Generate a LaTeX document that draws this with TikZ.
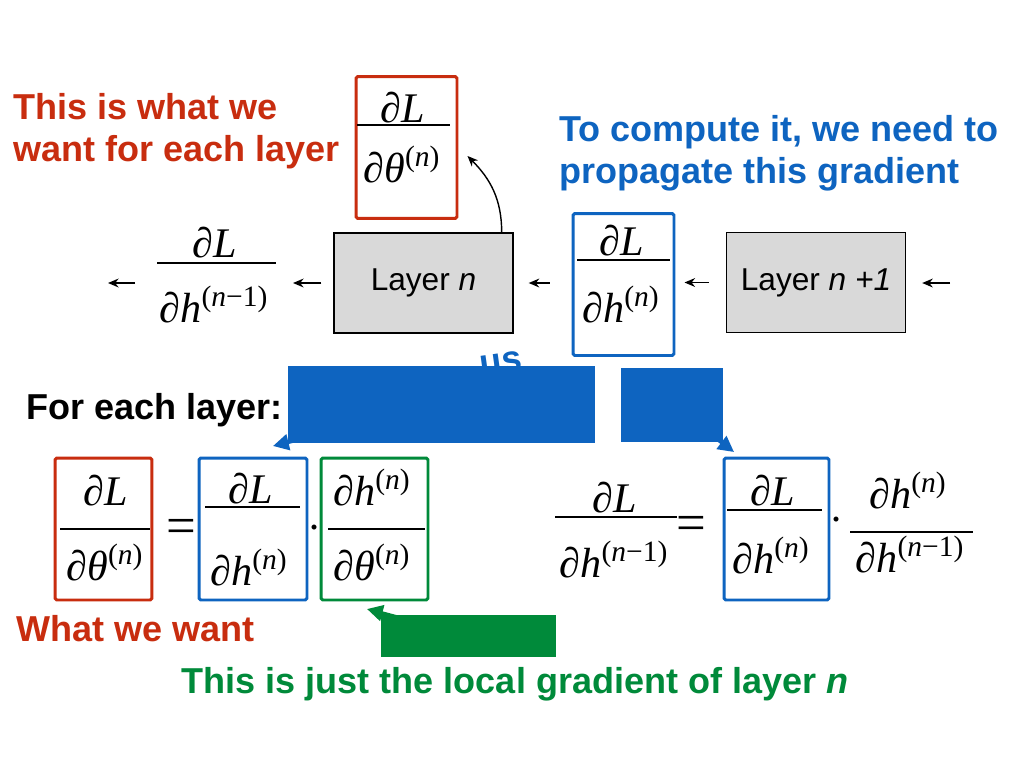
\documentclass[tikz,border=0pt]{standalone}
\usepackage{fontspec}
\setmainfont{Liberation Sans}
\newfontfamily\eqfont{Liberation Serif}
\usetikzlibrary{arrows.meta}

\definecolor{lossred}{RGB}{200,45,15}
\definecolor{gradblue}{RGB}{14,100,192}
\definecolor{localgreen}{RGB}{0,138,58}
\definecolor{layergray}{RGB}{217,217,217}

\newcommand{\lay}[1]{\textsuperscript{(\textit{#1})}}

\tikzset{
  head/.style={font=\fontsize{20.5}{24}\selectfont\bfseries, inner sep=0pt, align=left},
  mth/.style={font=\eqfont\fontsize{24}{26}\selectfont, inner sep=0pt, anchor=base},
  eqsign/.style={font=\eqfont\fontsize{30}{32}\selectfont, inner sep=0pt, anchor=base},
  bar/.style={line width=1.6pt},
  layer/.style={draw, fill=layergray, line width=0.8pt, minimum width=3.58cm, minimum height=2cm, inner sep=0pt, font=\fontsize{18}{20}\selectfont},
  gbox/.style={draw=#1, line width=1.7pt, minimum height=2.84cm, inner sep=0pt, rounded corners=1pt},
  flow/.style={-{Stealth[length=6pt,width=5pt]}, line width=1pt},
  callout/.style={fill=#1, inner sep=0pt},
  point/.style={-{Triangle[length=9pt,width=9pt]}, line width=2pt, draw=#1},
}

\begin{document}
\begin{tikzpicture}[x=0.02cm, y=-0.02cm]
\useasboundingbox (0,0) rectangle (1024,768);
\fill[white] (0,0) rectangle (1024,768);

% headings
\node[head, text=lossred, anchor=west] (wantall) at (13,131) {This is what we\\want for each layer};
\node[head, text=gradblue, anchor=west] (needprop) at (559,153) {To compute it, we need to\\propagate this gradient};

% forward chain, gradient flows right to left
\node[layer] (layern) at (423.5,283) {Layer \textit{n}};
\node[layer] (layernn) at (816,282.5) {Layer \textit{n +1}};
\node[gbox=lossred, minimum width=2.02cm] (topred) at (406.5,147.5) {};
\node[gbox=gradblue, minimum width=2.02cm] (topblue) at (623.5,284.5) {};

\node[mth] (trn) at (403,122) {∂\textit{L}};
\node[mth] (trd) at (402,182) {∂\textit{θ}\lay{n}};
\draw[bar] (357,125) -- (450,125);

\coordinate (pbl) at (157,263);
\coordinate (pbr) at (276,263);
\node[mth] (pvn) at (215,257) {∂\textit{L}};
\node[mth] (pvd) at (214,322) {∂\textit{h}\textsuperscript{(\textit{n}−1)}};
\draw[bar] (pbl) -- (pbr);

\node[mth] (tbn) at (622,255) {∂\textit{L}};
\node[mth] (tbd) at (621,322) {∂\textit{h}\lay{n}};
\draw[bar] (577,260) -- (670,260);

\coordinate (outl) at (108,283);
\coordinate (inr) at (950,283);
\draw[flow, shorten <=0.44cm] (outl -| pbl) -- (outl);
\draw[flow, shorten <=0.24cm, shorten >=0.34cm] (layern.west) -- (layern.west -| pbr);
\draw[flow, shorten <=0.44cm, shorten >=0.3cm] (topblue.west |- layern) -- (layern.east);
\draw[flow, shorten <=0.34cm, shorten >=0.18cm] (layernn.west) -- (layernn.west -| topblue.east);
\draw[flow, shorten >=0.32cm] (inr) -- (layernn.east |- inr);
\draw[-{Stealth[length=6pt,width=5pt]}, line width=0.8pt] ([xshift=-0.24cm]layern.north east)
  to[out=90, in=-45] ([shift={(0.18cm,-0.17cm)}]topred.east);

% chain rule, first line
\node[head, anchor=west] (foreach) at (26,410) {For each layer:};

\node[gbox=lossred, minimum width=1.94cm] (eqred) at (103.5,529) {};
\node[gbox=gradblue, minimum width=2.16cm] (eqblue) at (253,529) {};
\node[gbox=localgreen, minimum width=2.14cm] (eqgreen) at (374.5,529) {};

\node[mth] (ern) at (106,505) {∂\textit{L}};
\node[mth] (erd) at (105,580) {∂\textit{θ}\lay{n}};
\draw[bar] (60,529) -- (150,529);
\node[eqsign] (eqa) at (181,543) {=};
\node[mth] (ebn) at (251,503) {∂\textit{L}};
\node[mth] (ebd) at (249,585) {∂\textit{h}\lay{n}};
\draw[bar] (205,507) -- (300,507);
\node[mth] (dota) at (315,541) {·};
\node[mth] (egn) at (372,505) {∂\textit{h}\lay{n}};
\node[mth] (egd) at (372,580) {∂\textit{θ}\lay{n}};
\draw[bar] (328,529) -- (425,529);

% chain rule, second line
\node[gbox=gradblue, minimum width=2.1cm] (eqblueb) at (776.5,529) {};
\node[mth] (fpn) at (615,512) {∂\textit{L}};
\node[mth] (fpd) at (614,577) {∂\textit{h}\textsuperscript{(\textit{n}−1)}};
\draw[bar] (555,517) -- (677,517);
\node[eqsign] (eqb) at (691,540) {=};
\node[mth] (fbn) at (773,505) {∂\textit{L}};
\node[mth] (fbd) at (771,573) {∂\textit{h}\lay{n}};
\draw[bar] (727,510) -- (822,510);
\node[mth] (dotb) at (837,533) {·};
\node[mth] (fln) at (908,508) {∂\textit{h}\lay{n}};
\node[mth] (fld) at (910,572) {∂\textit{h}\textsuperscript{(\textit{n}−1)}};
\draw[bar] (850,532) -- (973,532);

% callouts
\node[head, text=gradblue, rotate=8] (usfrag) at (501,363) {us};
\coordinate (calla) at (441.5,404.5);
\coordinate (callb) at (672,405);
\coordinate (callc) at (468.5,636);
\coordinate (tipa) at (273,446);
\coordinate (tipb) at (734,452);
\coordinate (tipc) at (367,609);
\draw[point=gradblue] (calla) -- (tipa);
\draw[point=gradblue] (callb) -- (tipb);
\draw[point=localgreen] (callc) -- (tipc);
\node[callout=gradblue, minimum width=6.14cm, minimum height=1.54cm] (callouta) at (calla) {};
\node[callout=gradblue, minimum width=2.04cm, minimum height=1.48cm] (calloutb) at (callb) {};
\node[callout=localgreen, minimum width=3.5cm, minimum height=0.84cm] (calloutc) at (callc) {};

\node[head, text=lossred, anchor=west] (wewant) at (16,629) {What we want};
\node[head, text=localgreen] (localgrad) at (515,684) {This is just the local gradient of layer \textit{n}};
\end{tikzpicture}
\end{document}
